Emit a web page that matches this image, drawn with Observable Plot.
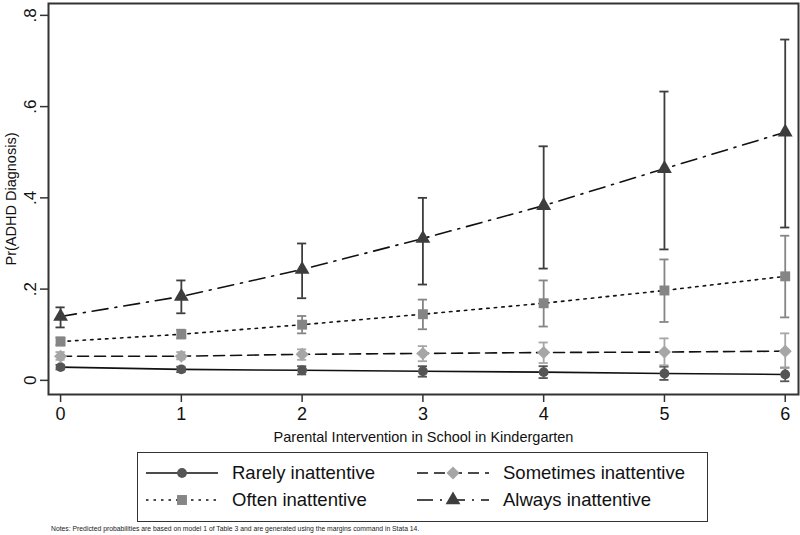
<!DOCTYPE html>
<html>
<head>
<meta charset="utf-8">
<script src="https://cdn.jsdelivr.net/npm/d3@7"></script>
<script src="https://cdn.jsdelivr.net/npm/@observablehq/plot@0.6"></script>
<style>
  html, body { margin: 0; padding: 0; background: #fff; }
  body { font-family: "Liberation Sans", Arial, Helvetica, sans-serif; }
  #wrap { position: relative; width: 800px; height: 535px; overflow: hidden; }
  #legend { position: absolute; left: 137px; top: 452px; width: 569px; height: 62px; border: 1.5px solid #333;
            display: grid; grid-template-columns: 271px 296px; grid-template-rows: 27px 27px; padding-top: 6px; box-sizing: content-box; }
  .item { display: flex; align-items: center; font-size: 18.5px; color: #111; }
  .item svg { margin-left: 8px; margin-right: 14px; }
  #note { position: absolute; left: 51px; top: 525px; font-size: 6.8px; color: #222; white-space: nowrap; }
</style>
</head>
<body>
<div id="wrap">
  <div id="chart"></div>
  <div id="legend"></div>
  <div id="note">Notes: Predicted probabilities are based on model 1 of Table 3 and are generated using the margins command in Stata 14.</div>
</div>
<script>
// ---- data ----
const xs = [0, 1, 2, 3, 4, 5, 6];

const seriesNames = ["Rarely inattentive", "Sometimes inattentive", "Often inattentive", "Always inattentive"];

const rarely   = [0.029, 0.024, 0.022, 0.020, 0.018, 0.015, 0.013];
const rarelyLo = [0.024, 0.018, 0.013, 0.008, 0.005, 0.001, -0.002];
const rarelyHi = [0.034, 0.030, 0.031, 0.031, 0.031, 0.030, 0.028];

const sometimes   = [0.053, 0.053, 0.057, 0.059, 0.061, 0.062, 0.064];
const sometimesLo = [0.045, 0.046, 0.045, 0.042, 0.038, 0.033, 0.027];
const sometimesHi = [0.062, 0.062, 0.068, 0.075, 0.083, 0.092, 0.103];

const often   = [0.085, 0.101, 0.122, 0.145, 0.169, 0.197, 0.228];
const oftenLo = [0.077, 0.092, 0.103, 0.112, 0.118, 0.128, 0.138];
const oftenHi = [0.094, 0.111, 0.141, 0.177, 0.219, 0.265, 0.317];

const always   = [0.140, 0.184, 0.243, 0.311, 0.383, 0.464, 0.544];
const alwaysLo = [0.116, 0.147, 0.180, 0.210, 0.245, 0.287, 0.335];
const alwaysHi = [0.160, 0.219, 0.300, 0.400, 0.513, 0.633, 0.747];

const yTicks = [0, 0.2, 0.4, 0.6, 0.8];
const xLabel = "Parental Intervention in School in Kindergarten";
const yLabel = "Pr(ADHD Diagnosis)";

// ---- styles per series ----
const styles = {
  "Rarely inattentive":    {symbol: "circle",   r: 4.9, fill: "#555555", bar: "#555555", dash: null},
  "Sometimes inattentive": {symbol: "diamond2", r: 5.9, fill: "#a6a6a6", bar: "#a6a6a6", dash: "11,6"},
  "Often inattentive":     {symbol: "square",   r: 5.6, fill: "#858585", bar: "#858585", dash: "2.5,5"},
  "Always inattentive":    {symbol: "triangle", r: 5.5, fill: "#3d3d3d", bar: "#3d3d3d", dash: "16,7,2,7"}
};

const allSeries = [
  [seriesNames[0], rarely, rarelyLo, rarelyHi],
  [seriesNames[1], sometimes, sometimesLo, sometimesHi],
  [seriesNames[2], often, oftenLo, oftenHi],
  [seriesNames[3], always, alwaysLo, alwaysHi]
];

const rows = allSeries.flatMap(([name, v, lo, hi]) =>
  xs.map((x, i) => ({series: name, x, y: v[i], lo: lo[i], hi: hi[i]})));

const capHalf = 0.038;
const marks = [];
for (const name of seriesNames) {
  const st = styles[name];
  const d = rows.filter(r => r.series === name);
  marks.push(Plot.ruleX(d, {x: "x", y1: "lo", y2: "hi", stroke: st.bar, strokeWidth: 1.8}));
  marks.push(Plot.ruleY(d, {y: "lo", x1: r => r.x - capHalf, x2: r => r.x + capHalf, stroke: st.bar, strokeWidth: 1.8}));
  marks.push(Plot.ruleY(d, {y: "hi", x1: r => r.x - capHalf, x2: r => r.x + capHalf, stroke: st.bar, strokeWidth: 1.8}));
}
for (const name of seriesNames) {
  const st = styles[name];
  const d = rows.filter(r => r.series === name);
  marks.push(Plot.line(d, {x: "x", y: "y", stroke: "#111", strokeWidth: 1.6, strokeDasharray: st.dash}));
}
for (const name of seriesNames) {
  const st = styles[name];
  const d = rows.filter(r => r.series === name);
  marks.push(Plot.dot(d, {x: "x", y: "y", symbol: () => st.symbol, r: st.r, fill: st.fill, stroke: "none"}));
}

const chart = Plot.plot({
  width: 800,
  height: 445,
  marginLeft: 48,
  marginRight: 2,
  marginTop: 3,
  marginBottom: 51,
  style: {fontFamily: '"Liberation Sans", Arial, sans-serif', color: "#111", background: "#fff", overflow: "visible"},
  symbol: {type: "identity"},
  x: {domain: [-0.1, 6.11]},
  y: {domain: [-0.031, 0.826]},
  marks: [
    Plot.axisX({ticks: xs, tickFormat: d => String(d), tickSize: 8, tickPadding: 5, fontSize: 18, stroke: "#333", strokeWidth: 1.5,
                label: xLabel, labelAnchor: "center", labelOffset: 47, labelArrow: "none"}),
    Plot.axisY({ticks: yTicks, tickFormat: d => d === 0 ? "0" : String(d).replace(/^0/, ""), tickSize: 8, tickPadding: 5,
                tickRotate: -90, fontSize: 17, stroke: "#333", strokeWidth: 1.5,
                label: yLabel, labelAnchor: "center", labelOffset: 43, labelArrow: "none"}),
    ...marks,
    Plot.frame({stroke: "#333", strokeWidth: 2})
  ]
});
chart.querySelectorAll('[aria-label="x-axis label"] text, [aria-label="y-axis label"] text').forEach(t => {
  t.setAttribute("font-size", "14.5");
  t.textContent = t.textContent.replace(/\s*[→↑←↓]\s*/g, "");
});
document.getElementById("chart").appendChild(chart);

// ---- legend (HTML below the SVG) ----
const legend = document.getElementById("legend");
for (const name of seriesNames) {
  const st = styles[name];
  const item = document.createElement("div");
  item.className = "item";
  const w = 72, h = 22;
  const svg = d3.create("svg").attr("width", w).attr("height", h);
  svg.append("line").attr("x1", 0).attr("x2", w).attr("y1", h / 2).attr("y2", h / 2)
     .attr("stroke", "#111").attr("stroke-width", 1.6).attr("stroke-dasharray", st.dash);
  const sym = {circle: d3.symbolCircle, diamond2: d3.symbolDiamond2, square: d3.symbolSquare, triangle: d3.symbolTriangle}[st.symbol];
  svg.append("path").attr("transform", `translate(${w / 2},${h / 2})`)
     .attr("d", d3.symbol(sym, Math.PI * st.r * st.r)()).attr("fill", st.fill);
  item.appendChild(svg.node());
  const span = document.createElement("span");
  span.textContent = name;
  item.appendChild(span);
  legend.appendChild(item);
}
</script>
</body>
</html>
